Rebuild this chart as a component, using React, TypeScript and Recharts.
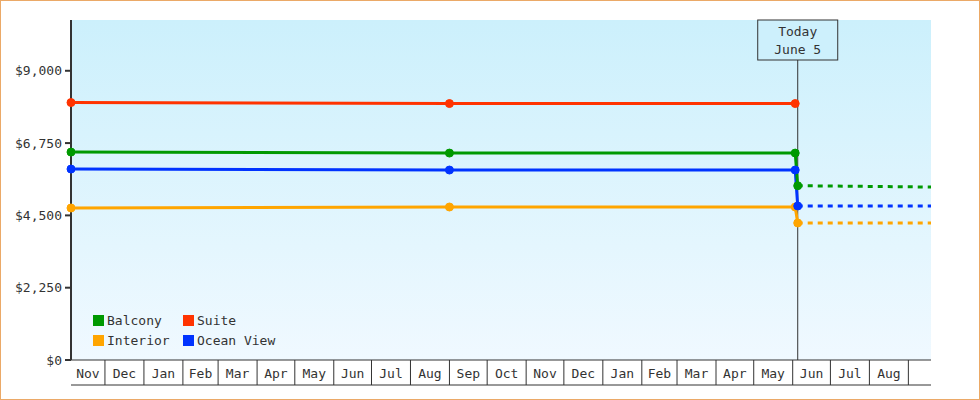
import React from "react";
import {
  LineChart,
  Line,
  XAxis,
  YAxis,
  CartesianGrid,
  ReferenceLine,
  Legend,
} from "recharts";

// ---------- data ----------
const axisRange = ["2013-11-04", "2015-09-19"];
const monthLabels = [
  "Nov", "Dec", "Jan", "Feb", "Mar", "Apr", "May", "Jun", "Jul", "Aug", "Sep",
  "Oct", "Nov", "Dec", "Jan", "Feb", "Mar", "Apr", "May", "Jun", "Jul", "Aug",
];
const monthStarts = [
  "2013-12-01", "2014-01-01", "2014-02-01", "2014-03-01", "2014-04-01",
  "2014-05-01", "2014-06-01", "2014-07-01", "2014-08-01", "2014-09-01",
  "2014-10-01", "2014-11-01", "2014-12-01", "2015-01-01", "2015-02-01",
  "2015-03-01", "2015-04-01", "2015-05-01", "2015-06-01", "2015-07-01",
  "2015-08-01", "2015-09-01",
];
const yTicks = [0, 2250, 4500, 6750, 9000];
const yMax = 10580;
const todayDate = "2015-06-05";
const todayText = ["Today", "June 5"];

const priceDates = ["2013-11-04", "2014-09-01", "2015-06-03", "2015-06-05"];
const balcony = [6470, 6439, 6439, 5423];
const suite = [8011, 7980, 7980];
const oceanView = [5942, 5911, 5911, 4792];
const interior = [4730, 4761, 4761, 4264];

const forecastDates = ["2015-06-05", "2015-09-19"];
const balconyForecast = [5423, 5382];
const oceanViewForecast = [4792, 4792];
const interiorForecast = [4264, 4264];

const legendRows = [
  ["Balcony", "Suite"],
  ["Interior", "Ocean View"],
];

// ---------- styles ----------
const COLORS: Record<string, string> = {
  Balcony: "#009900",
  Suite: "#FF3300",
  Interior: "#FFA500",
  "Ocean View": "#0033FF",
};
const FONT = '"DejaVu Sans Mono", "Liberation Mono", monospace';
const INK = "#333333";

// ---------- helpers ----------
const toDay = (s: string) => Date.parse(s + "T00:00:00Z") / 86400000;
const series = (dates: string[], values: number[]) =>
  values.map((v, i) => ({ t: toDay(dates[i]), v }));

const domain = [toDay(axisRange[0]), toDay(axisRange[1])];
const sepTicks = monthStarts.map(toDay);
const labelTicks = monthLabels.map((_, i) => {
  const a = i === 0 ? domain[0] : sepTicks[i - 1];
  const b = sepTicks[i];
  return (a + b) / 2;
});

const fmtMoney = (v: number) =>
  "$" + String(v).replace(/\B(?=(\d{3})+(?!\d))/g, ",");

const EmptyTick = () => <g />;

const MonthTick = (props: any) => (
  <text
    x={props.x}
    y={props.y - 7}
    textAnchor="middle"
    fill={INK}
    fontSize={13}
    fontFamily={FONT}
  >
    {monthLabels[props.index]}
  </text>
);

const TodayLabel = (props: any) => {
  const vb = props.viewBox || {};
  const x = vb.x;
  const y = vb.y;
  return (
    <g>
      <rect
        x={x - 40}
        y={y}
        width={80}
        height={40}
        fill="#CDF0FC"
        stroke={INK}
        strokeWidth={1}
      />
      <text x={x} y={y + 16} textAnchor="middle" fill={INK} fontSize={13} fontFamily={FONT}>
        {todayText[0]}
      </text>
      <text x={x} y={y + 34} textAnchor="middle" fill={INK} fontSize={13} fontFamily={FONT}>
        {todayText[1]}
      </text>
    </g>
  );
};

const LegendBox = () => (
  <div style={{ fontFamily: FONT, fontSize: 13, color: INK, whiteSpace: "nowrap" }}>
    {legendRows.map((row, r) => (
      <div key={r} style={{ display: "flex", height: 20 }}>
        {row.map((name) => (
          <div
            key={name}
            style={{ width: 90, flex: "0 0 90px", display: "flex", alignItems: "center" }}
          >
            <span
              style={{
                display: "inline-block",
                width: 11,
                height: 11,
                flex: "0 0 11px",
                background: COLORS[name],
                marginRight: 3,
              }}
            />
            <span>{name}</span>
          </div>
        ))}
      </div>
    ))}
  </div>
);

const dotFor = (c: string) => ({ r: 4, fill: c, stroke: c, strokeWidth: 1 });

export default function App() {
  return (
    <div
      style={{
        position: "absolute",
        left: 0,
        top: 0,
        width: 980,
        height: 400,
        boxSizing: "border-box",
        border: "1px solid #EBA967",
        background: "#ffffff",
        fontFamily: FONT,
      }}
    >
      <div style={{ position: "absolute", left: -1, top: -1 }}>
        <LineChart
          width={980}
          height={400}
          margin={{ top: 20, right: 49, bottom: 0, left: 0 }}
        >
          <defs>
            <linearGradient id="plotBg" x1="0" y1="0" x2="0" y2="1">
              <stop offset="0%" stopColor="#CCF0FC" />
              <stop offset="100%" stopColor="#F0F9FF" />
            </linearGradient>
          </defs>
          <CartesianGrid
            horizontal={false}
            vertical={false}
            fill="url(#plotBg)"
            stroke="none"
          />
          <XAxis
            xAxisId="b"
            type="number"
            dataKey="t"
            domain={domain}
            allowDataOverflow
            ticks={labelTicks}
            interval={0}
            height={15}
            tickSize={0}
            tickMargin={0}
            tickLine={false}
            axisLine={{ stroke: INK, strokeWidth: 1 }}
            tick={<MonthTick />}
          />
          <XAxis
            xAxisId="a"
            type="number"
            dataKey="t"
            domain={domain}
            ticks={sepTicks}
            interval={0}
            height={25}
            tickSize={25}
            tickLine={{ stroke: INK, strokeWidth: 1 }}
            axisLine={{ stroke: INK, strokeWidth: 1 }}
            tick={<EmptyTick />}
          />
          <YAxis
            type="number"
            domain={[0, yMax]}
            ticks={yTicks}
            interval={0}
            width={71}
            tickSize={6}
            tickMargin={3}
            tickFormatter={fmtMoney}
            tick={{ fill: INK, fontSize: 13, fontFamily: FONT }}
            tickLine={{ stroke: INK, strokeWidth: 2 }}
            axisLine={{ stroke: INK, strokeWidth: 2 }}
          />
          <ReferenceLine
            xAxisId="a"
            x={toDay(todayDate)}
            stroke={INK}
            strokeWidth={1}
            label={<TodayLabel />}
          />
          <Line
            xAxisId="a"
            data={series(forecastDates, interiorForecast)}
            dataKey="v"
            type="linear"
            stroke={COLORS.Interior}
            strokeWidth={3}
            strokeDasharray="5 5"
            dot={false}
            activeDot={false}
            isAnimationActive={false}
            legendType="none"
          />
          <Line
            xAxisId="a"
            data={series(forecastDates, oceanViewForecast)}
            dataKey="v"
            type="linear"
            stroke={COLORS["Ocean View"]}
            strokeWidth={3}
            strokeDasharray="5 5"
            dot={false}
            activeDot={false}
            isAnimationActive={false}
            legendType="none"
          />
          <Line
            xAxisId="a"
            data={series(forecastDates, balconyForecast)}
            dataKey="v"
            type="linear"
            stroke={COLORS.Balcony}
            strokeWidth={3}
            strokeDasharray="5 5"
            dot={false}
            activeDot={false}
            isAnimationActive={false}
            legendType="none"
          />
          <Line
            xAxisId="a"
            name="Interior"
            data={series(priceDates, interior)}
            dataKey="v"
            type="linear"
            stroke={COLORS.Interior}
            strokeWidth={3}
            dot={dotFor(COLORS.Interior)}
            activeDot={false}
            isAnimationActive={false}
          />
          <Line
            xAxisId="a"
            name="Ocean View"
            data={series(priceDates, oceanView)}
            dataKey="v"
            type="linear"
            stroke={COLORS["Ocean View"]}
            strokeWidth={3}
            dot={dotFor(COLORS["Ocean View"])}
            activeDot={false}
            isAnimationActive={false}
          />
          <Line
            xAxisId="a"
            name="Balcony"
            data={series(priceDates, balcony)}
            dataKey="v"
            type="linear"
            stroke={COLORS.Balcony}
            strokeWidth={3}
            dot={dotFor(COLORS.Balcony)}
            activeDot={false}
            isAnimationActive={false}
          />
          <Line
            xAxisId="a"
            name="Suite"
            data={series(priceDates, suite)}
            dataKey="v"
            type="linear"
            stroke={COLORS.Suite}
            strokeWidth={3}
            dot={dotFor(COLORS.Suite)}
            activeDot={false}
            isAnimationActive={false}
          />
          <Legend
            layout="horizontal"
            verticalAlign="middle"
            align="center"
            content={<LegendBox />}
            wrapperStyle={{ left: 93, top: 310, width: 220, height: 40 }}
          />
        </LineChart>
      </div>
    </div>
  );
}
